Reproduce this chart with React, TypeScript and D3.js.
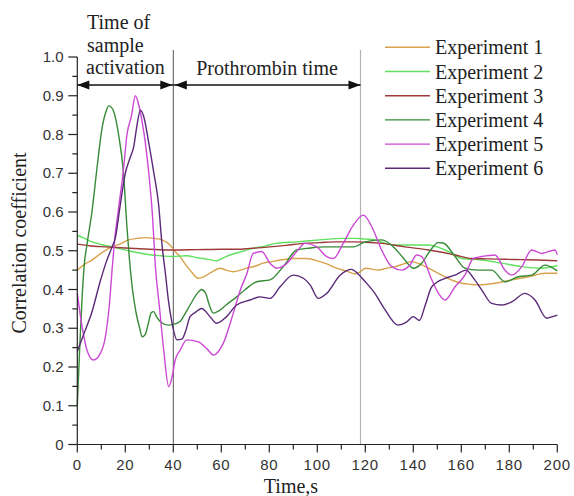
import React from 'react';
import * as d3 from 'd3';

type Pt = [number, number];

const xTicks = [0, 20, 40, 60, 80, 100, 120, 140, 160, 180, 200];
const xMinor = [10, 30, 50, 70, 90, 110, 130, 150, 170, 190];
const yTicks = [0, 0.1, 0.2, 0.3, 0.4, 0.5, 0.6, 0.7, 0.8, 0.9, 1.0];
const yTickLabels = ['0', '0.1', '0.2', '0.3', '0.4', '0.5', '0.6', '0.7', '0.8', '0.9', '1.0'];
const yMinor = [0.05, 0.15, 0.25, 0.35, 0.45, 0.55, 0.65, 0.75, 0.85, 0.95];

const seriesNames = ['Experiment 1', 'Experiment 2', 'Experiment 3', 'Experiment 4', 'Experiment 5', 'Experiment 6'];
const seriesColors = ['#d8a24c', '#5fe05f', '#9e3a3a', '#378a37', '#cc48d4', '#5a2878'];

// phase markers (s)
const activationEnd = 40;
const prothrombinEnd = 118;

const exp1: Pt[] = [
  [0, 0.45], [3, 0.465], [6.1, 0.476], [10, 0.494], [13.1, 0.506], [18, 0.518], [21.4, 0.528], [25, 0.532],
  [28.3, 0.534], [32, 0.532], [35.3, 0.528], [38.6, 0.515], [40.8, 0.498], [42.8, 0.485], [45, 0.465],
  [47, 0.45], [50.4, 0.429], [53.9, 0.437], [56, 0.445], [59.5, 0.455], [62, 0.45], [65, 0.446], [68, 0.45],
  [70.6, 0.455], [74, 0.46], [77.5, 0.468], [81, 0.472], [84.5, 0.476], [90, 0.48], [95.6, 0.48], [101, 0.472],
  [104, 0.466], [108, 0.455], [112, 0.448], [115.7, 0.44], [118, 0.446], [120, 0.455], [125.4, 0.45],
  [129, 0.455], [132.4, 0.459], [136, 0.466], [139.3, 0.472], [143, 0.465], [146.3, 0.455], [150, 0.443],
  [153.2, 0.433], [157, 0.422], [160.2, 0.416], [164, 0.413], [167, 0.412], [170, 0.413], [174, 0.416],
  [181, 0.425], [188, 0.433], [195, 0.442], [200, 0.442],
];

const exp2: Pt[] = [
  [0, 0.54], [3, 0.532], [6.1, 0.523], [10, 0.516], [14.5, 0.51], [18, 0.505], [22.8, 0.498], [27, 0.493],
  [31, 0.489], [35, 0.487], [39.5, 0.485], [45.6, 0.487], [50, 0.482], [52.5, 0.48], [55, 0.477], [58, 0.474],
  [60, 0.479], [63.6, 0.489], [68, 0.497], [73.3, 0.506], [78, 0.512], [83, 0.519], [91.4, 0.523],
  [101, 0.528], [110.8, 0.532], [115.7, 0.532], [120, 0.53], [124, 0.528], [128, 0.52], [132.4, 0.515],
  [140.7, 0.515], [146.3, 0.515], [150, 0.51], [153.2, 0.502], [157, 0.49], [160.2, 0.48], [168.5, 0.476],
  [176.8, 0.468], [185.2, 0.459], [193.5, 0.455], [200, 0.462],
];

const exp3: Pt[] = [
  [0, 0.517], [5, 0.513], [11.7, 0.51], [20, 0.507], [30, 0.504], [40, 0.502], [50, 0.503], [60, 0.504],
  [66.4, 0.504], [72, 0.506], [80.3, 0.51], [87, 0.514], [94.2, 0.519], [101, 0.521], [108, 0.523],
  [115.7, 0.523], [120, 0.522], [126.8, 0.519], [136.5, 0.51], [146.3, 0.502], [152, 0.496], [157.4, 0.489],
  [164.3, 0.48], [171, 0.479], [178.2, 0.478], [185, 0.477], [192, 0.476], [200, 0.474],
];

const exp4: Pt[] = [
  [0, 0.1], [1, 0.25], [2, 0.38], [3, 0.47], [4, 0.515], [6.1, 0.6], [8.2, 0.713], [10.3, 0.816], [12, 0.86],
  [13.1, 0.874], [14.2, 0.87], [15.2, 0.859], [17.2, 0.8], [19.3, 0.696], [20.7, 0.56], [21.7, 0.48],
  [23, 0.4], [24.5, 0.34], [26, 0.3], [27, 0.278], [28.4, 0.285], [29.5, 0.31], [30.8, 0.34], [31.8, 0.343],
  [33, 0.33], [34.6, 0.317], [38, 0.308], [40, 0.31], [42.9, 0.318], [44.2, 0.33], [47, 0.36], [50, 0.39],
  [51.8, 0.4], [53.5, 0.39], [55, 0.36], [56.7, 0.339], [59, 0.345], [62, 0.36], [66.4, 0.381], [70, 0.4],
  [74.7, 0.42], [80.3, 0.425], [85.8, 0.459], [91.4, 0.502], [97, 0.507], [102.5, 0.51], [108, 0.51],
  [115, 0.51], [120, 0.523], [126.8, 0.528], [132.4, 0.506], [136, 0.48], [140, 0.455], [143.5, 0.468],
  [147, 0.5], [150.4, 0.521], [152.5, 0.52], [157.4, 0.485], [161.5, 0.455], [167, 0.45], [172.7, 0.45],
  [178.2, 0.42], [183.8, 0.433], [189.3, 0.437], [194.9, 0.463], [200, 0.448],
];

const exp5: Pt[] = [
  [0, 0.39], [2, 0.304], [4, 0.244], [6.8, 0.218], [9.6, 0.235], [11.7, 0.278], [13.3, 0.356], [14.6, 0.459],
  [15.6, 0.53], [17.2, 0.61], [19.3, 0.713], [20.7, 0.8], [22.5, 0.846], [24.2, 0.9], [25.6, 0.876],
  [27, 0.833], [28.3, 0.781], [30, 0.687], [31.4, 0.584], [32.5, 0.463], [34.2, 0.356], [36, 0.244],
  [38.1, 0.149], [39.5, 0.175], [40.8, 0.218], [42.9, 0.244], [45.6, 0.27], [50.4, 0.265], [53.9, 0.248],
  [56.7, 0.231], [60.8, 0.261], [65, 0.339], [68, 0.4], [70.6, 0.44], [73.3, 0.493], [76.8, 0.498],
  [80.3, 0.468], [83, 0.455], [86.5, 0.463], [91.4, 0.498], [94.9, 0.519], [99.8, 0.51], [103.9, 0.485],
  [106.7, 0.48], [110.8, 0.519], [115, 0.566], [119.2, 0.592], [122.7, 0.562], [126.8, 0.502], [131, 0.459],
  [135.2, 0.45], [138.6, 0.463], [141.4, 0.489], [143.5, 0.485], [147.7, 0.425], [150.5, 0.39],
  [153.2, 0.373], [157.4, 0.407], [161.5, 0.437], [165, 0.48], [168.5, 0.485], [174, 0.489], [178.2, 0.45],
  [181, 0.437], [185.2, 0.459], [189.3, 0.502], [193.5, 0.493], [199, 0.502], [200, 0.49],
];

const exp6: Pt[] = [
  [0, 0.24], [3, 0.29], [6, 0.34], [9.5, 0.42], [12, 0.47], [14.5, 0.51], [15.8, 0.532], [17.9, 0.618],
  [20, 0.7], [22, 0.74], [23.5, 0.768], [24.9, 0.825], [26.3, 0.863], [27.7, 0.846], [29.7, 0.781],
  [31.8, 0.704], [33.9, 0.618], [35.3, 0.515], [36.7, 0.442], [38, 0.37], [39.5, 0.313], [41.5, 0.27],
  [43.6, 0.272], [45, 0.29], [47, 0.33], [49, 0.34], [51.8, 0.351], [55.3, 0.33], [58, 0.313], [62.2, 0.33],
  [66.4, 0.36], [72, 0.373], [76.1, 0.381], [80.3, 0.377], [84.5, 0.407], [90, 0.437], [94.2, 0.429],
  [97, 0.412], [100.4, 0.377], [103.9, 0.39], [109.5, 0.437], [114.3, 0.452], [117, 0.44], [120, 0.42],
  [124, 0.39], [128, 0.35], [133.6, 0.308], [137, 0.315], [140, 0.33], [142.5, 0.32], [145, 0.36],
  [147.7, 0.407], [153.2, 0.429], [157.4, 0.437], [162, 0.45], [165, 0.43], [168.5, 0.399], [172.7, 0.364],
  [176.8, 0.36], [181, 0.368], [186.5, 0.39], [190.7, 0.373], [195.6, 0.326], [198, 0.33], [200, 0.334],
];

const series = [exp1, exp2, exp3, exp4, exp5, exp6];

const serif = '"Liberation Serif", "Times New Roman", serif';
const sans = '"Liberation Sans", Arial, sans-serif';

const App = () => {
  const width = 574;
  const height = 496;

  const x = d3.scaleLinear().domain([0, 200]).range([77.3, 557.3]);
  const y = d3.scaleLinear().domain([0, 1]).range([444.5, 57]);

  const line = d3.line<Pt>()
    .x(d => x(d[0]))
    .y(d => y(d[1]))
    .curve(d3.curveMonotoneX);

  const arrowY = 85;
  const head = (tipX: number, dir: number) =>
    `M${tipX},${arrowY} L${tipX - dir * 12},${arrowY - 4.5} L${tipX - dir * 12},${arrowY + 4.5} Z`;

  const legendX = 385;
  const legendY = 47.3;
  const legendStep = 24.2;

  return (
    <svg width={width} height={height} style={{ position: 'absolute', left: 0, top: 0, display: 'block', background: '#fff' }}>
      {/* phase markers */}
      <line x1={x(activationEnd)} x2={x(activationEnd)} y1={50} y2={y(0)} stroke="#555" strokeWidth={1} />
      <line x1={x(prothrombinEnd)} x2={x(prothrombinEnd)} y1={50} y2={y(0)} stroke="#b4b4b4" strokeWidth={1.2} />

      {/* series */}
      {series.map((s, i) => (
        <path key={i} d={line(s) ?? ''} fill="none" stroke={seriesColors[i]} strokeWidth={1.4} strokeLinejoin="round" />
      ))}

      {/* axes */}
      <line x1={x(0)} x2={x(0)} y1={y(0)} y2={y(1)} stroke="#222" strokeWidth={1.2} />
      <line x1={x(0)} x2={x(200)} y1={y(0)} y2={y(0)} stroke="#222" strokeWidth={1.2} />
      {yTicks.map((t, i) => (
        <g key={'y' + i}>
          <line x1={x(0) - 9} x2={x(0)} y1={y(t)} y2={y(t)} stroke="#222" strokeWidth={1.2} />
          <text x={63.5} y={y(t) + 5} textAnchor="end" fontFamily={sans} fontSize={15} fill="#333">{yTickLabels[i]}</text>
        </g>
      ))}
      {yMinor.map((t, i) => (
        <line key={'ym' + i} x1={x(0) - 5} x2={x(0)} y1={y(t)} y2={y(t)} stroke="#222" strokeWidth={1.2} />
      ))}
      {xTicks.map((t, i) => (
        <g key={'x' + i}>
          <line x1={x(t)} x2={x(t)} y1={y(0)} y2={y(0) + 8} stroke="#222" strokeWidth={1.2} />
          <text x={x(t)} y={470} textAnchor="middle" fontFamily={sans} fontSize={15} fill="#333" letterSpacing={0.8}>{t}</text>
        </g>
      ))}
      {xMinor.map((t, i) => (
        <line key={'xm' + i} x1={x(t)} x2={x(t)} y1={y(0)} y2={y(0) + 5} stroke="#222" strokeWidth={1.2} />
      ))}

      {/* axis titles */}
      <text x={291} y={493} textAnchor="middle" fontFamily={serif} fontSize={20} fill="#222">Time,s</text>
      <text transform={`translate(26,243) rotate(-90)`} textAnchor="middle" fontFamily={serif} fontSize={20} fill="#222">Correlation coefficient</text>

      {/* phase arrows */}
      <line x1={x(0)} x2={x(activationEnd)} y1={arrowY} y2={arrowY} stroke="#111" strokeWidth={1.3} />
      <line x1={x(activationEnd)} x2={x(prothrombinEnd)} y1={arrowY} y2={arrowY} stroke="#111" strokeWidth={1.3} />
      <path d={head(x(0), -1)} fill="#111" />
      <path d={head(x(activationEnd) - 1, 1)} fill="#111" />
      <path d={head(x(activationEnd) + 1.5, -1)} fill="#111" />
      <path d={head(x(prothrombinEnd), 1)} fill="#111" />

      <text fontFamily={serif} fontSize={20} fill="#222">
        <tspan x={87} y={29}>Time of</tspan>
        <tspan x={87} y={51.5}>sample</tspan>
        <tspan x={86} y={74}>activation</tspan>
      </text>
      <text x={267} y={75} textAnchor="middle" fontFamily={serif} fontSize={20} fill="#222">Prothrombin time</text>

      {/* legend */}
      {seriesNames.map((name, i) => (
        <g key={'lg' + i}>
          <line x1={legendX} x2={legendX + 45} y1={legendY + i * legendStep} y2={legendY + i * legendStep}
            stroke={seriesColors[i]} strokeWidth={1.4} />
          <text x={legendX + 50} y={legendY + i * legendStep + 7} fontFamily={serif} fontSize={20} fill="#222">{name}</text>
        </g>
      ))}
    </svg>
  );
};

export default App;
